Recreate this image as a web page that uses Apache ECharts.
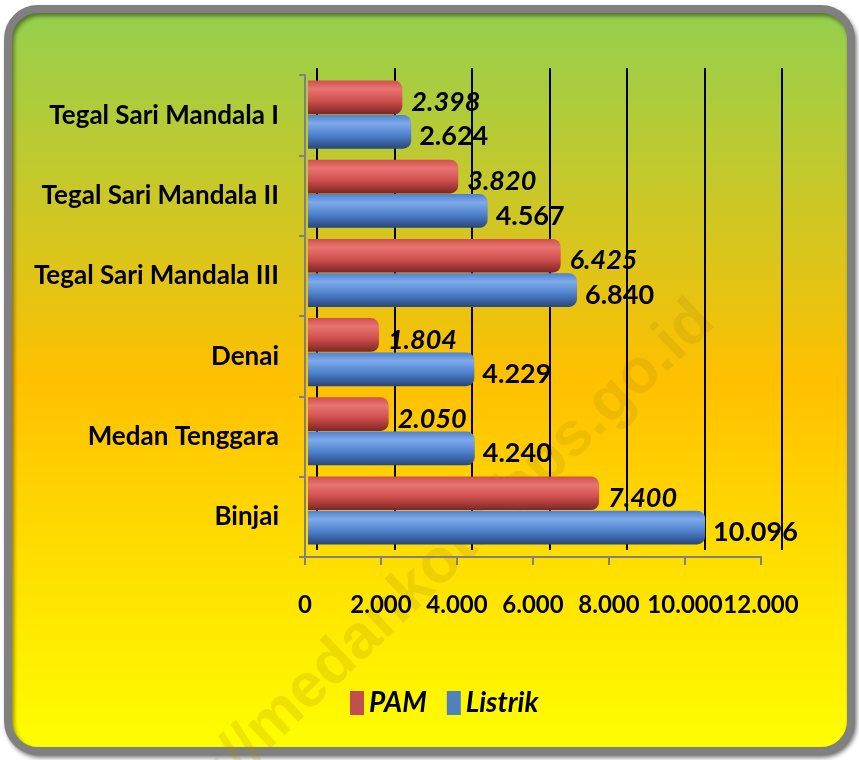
<!DOCTYPE html>
<html>
<head>
<meta charset="utf-8">
<script src="https://cdn.jsdelivr.net/npm/echarts@6/dist/echarts.min.js"></script>
<style>
  html, body { margin: 0; padding: 0; background: #fff; }
  #main { width: 859px; height: 760px; }
</style>
</head>
<body>
<div id="main"></div>
<script>
var categories = ['Binjai', 'Medan Tenggara', 'Denai', 'Tegal Sari Mandala III', 'Tegal Sari Mandala II', 'Tegal Sari Mandala I'];
var pamValues = [7400, 2050, 1804, 6425, 3820, 2398];
var listrikValues = [10096, 4240, 4229, 6840, 4567, 2624];
var xTickLabels = ['0', '2.000', '4.000', '6.000', '8.000', '10.000', '12.000'];
var seriesNames = ['PAM', 'Listrik'];
var seriesColors = ['#c0504d', '#4f81bd'];

var FONT = 'Lato, "Noto Sans", sans-serif';

function dotted (v) {
  return String(v).replace(/\B(?=(\d{3})+(?!\d))/g, '.');
}

function cylinder (light, mid, dark) {
  return new echarts.graphic.LinearGradient(0, 0, 0, 1, [
    { offset: 0, color: mid },
    { offset: 0.25, color: light },
    { offset: 0.6, color: mid },
    { offset: 1, color: dark }
  ]);
}

var chart = echarts.init(document.getElementById('main'));
window.addEventListener('resize', function () { chart.resize(); });

chart.setOption({
  backgroundColor: '#ffffff',
  animation: false,
  graphic: [
    {
      type: 'rect',
      z: -20,
      shape: { x: 8, y: 9, width: 843, height: 742, r: 30 },
      style: {
        fill: new echarts.graphic.LinearGradient(0, 0, 0, 1, [
          { offset: 0, color: '#92d050' },
          { offset: 0.5, color: '#ffc000' },
          { offset: 1, color: '#ffff00' }
        ]),
        stroke: '#808080',
        lineWidth: 8,
        shadowColor: 'rgba(0,0,0,0.45)',
        shadowBlur: 4,
        shadowOffsetX: 2,
        shadowOffsetY: 3
      }
    },
    {
      // watermark
      type: 'text',
      z: -10,
      x: 705,
      y: 312,
      rotation: 0.76,
      style: {
        text: 'http://medankota.bps.go.id',
        font: 'bold 62px "Liberation Sans", sans-serif',
        fill: 'rgba(170, 140, 0, 0.2)',
        align: 'right',
        verticalAlign: 'middle'
      }
    }
  ],
  legend: {
    data: [
      { name: seriesNames[0], itemStyle: { color: seriesColors[0] } },
      { name: seriesNames[1], itemStyle: { color: seriesColors[1] } }
    ],
    left: 345,
    top: 684,
    itemWidth: 14,
    itemHeight: 24,
    itemGap: 20,
    icon: 'rect',
    textStyle: {
      fontFamily: FONT,
      fontSize: 28,
      fontWeight: 'bold',
      fontStyle: 'italic',
      color: '#000'
    }
  },
  grid: [
    { left: 305, right: 98, top: 75, bottom: 203, outerBoundsMode: 'none' },
    { left: 317, right: 77, top: 68, bottom: 210, outerBoundsMode: 'none' },
    { left: 308, right: 79, top: 75, bottom: 210, outerBoundsMode: 'none' }
  ],
  xAxis: [
    {
      gridIndex: 0,
      type: 'value',
      min: 0,
      max: 12000,
      interval: 2000,
      axisLine: { show: true, lineStyle: { color: '#808080', width: 2 } },
      axisTick: { show: true, length: 8, lineStyle: { color: '#808080', width: 2 } },
      splitLine: { show: false },
      axisLabel: {
        margin: 36,
        fontFamily: FONT,
        fontSize: 24,
        fontWeight: 'bold',
        color: '#000',
        hideOverlap: false,
        formatter: function (v) { return xTickLabels[Math.round(v / 2000)]; }
      }
    },
    {
      gridIndex: 1,
      type: 'value',
      min: 0,
      max: 12000,
      interval: 2000,
      axisLine: { show: false },
      axisTick: { show: false },
      axisLabel: { show: false },
      splitLine: { show: true, lineStyle: { color: '#000', width: 2 } }
    },
    {
      gridIndex: 2,
      type: 'value',
      min: 0,
      max: 12000,
      show: false
    }
  ],
  yAxis: [
    {
      gridIndex: 0,
      type: 'category',
      data: categories,
      axisLine: { show: true, lineStyle: { color: '#808080', width: 2 } },
      axisTick: { show: true, length: 6, lineStyle: { color: '#808080', width: 2 } },
      axisLabel: {
        margin: 26,
        fontFamily: FONT,
        fontSize: 26,
        fontWeight: 'bold',
        color: '#000'
      }
    },
    {
      gridIndex: 1,
      type: 'category',
      data: categories,
      show: false
    },
    {
      gridIndex: 2,
      type: 'category',
      data: categories,
      show: false
    }
  ],
  series: [
    {
      name: seriesNames[0],
      type: 'bar',
      xAxisIndex: 2,
      yAxisIndex: 2,
      barGap: '2%',
      barCategoryGap: '14%',
      itemStyle: {
        color: cylinder('#e87472', '#d0504e', '#7c2624'),
        borderRadius: [0, 8, 8, 0]
      },
      label: {
        show: true,
        position: 'right',
        distance: 9,
        offset: [0, 5],
        fontFamily: FONT,
        fontSize: 27,
        fontWeight: 'bold',
        fontStyle: 'italic',
        color: '#000',
        formatter: function (p) { return dotted(p.value); }
      },
      data: pamValues
    },
    {
      name: seriesNames[1],
      type: 'bar',
      xAxisIndex: 2,
      yAxisIndex: 2,
      barGap: '2%',
      barCategoryGap: '14%',
      itemStyle: {
        color: cylinder('#7eaaea', '#4f81cd', '#27477a'),
        borderRadius: [0, 8, 8, 0]
      },
      label: {
        show: true,
        position: 'right',
        distance: 8,
        offset: [0, 5],
        fontFamily: FONT,
        fontSize: 27,
        fontWeight: 'bold',
        color: '#000',
        formatter: function (p) { return dotted(p.value); }
      },
      data: listrikValues
    }
  ]
});
</script>
</body>
</html>
